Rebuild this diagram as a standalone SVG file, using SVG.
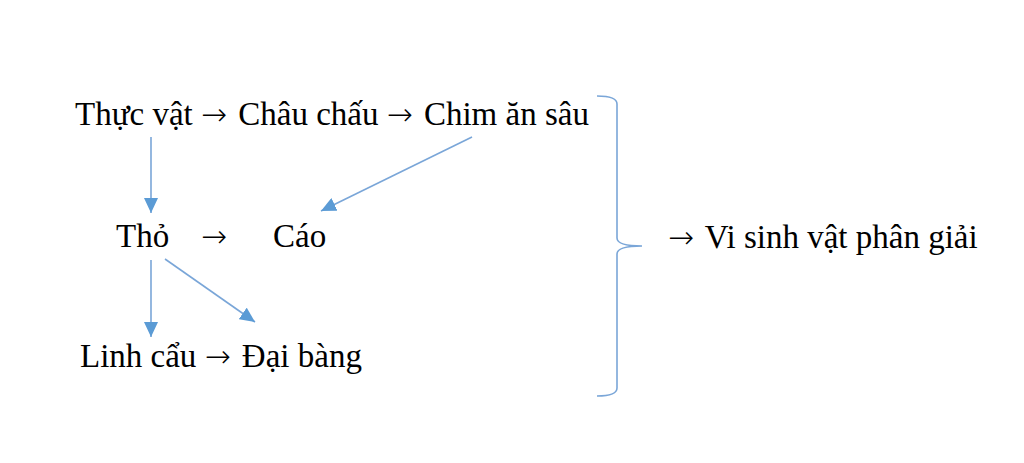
<svg xmlns="http://www.w3.org/2000/svg" width="1024" height="463" viewBox="0 0 1024 463">
<style>
.t{font-family:"Liberation Serif","Times New Roman",serif;font-size:33px;fill:#000}
.a{font-family:"DejaVu Sans",sans-serif;font-size:31px;font-weight:200}
.c{stroke:#7aa6d8;stroke-width:1.6;fill:none}
</style>
<defs>
<marker id="ahb" viewBox="0 0 10 10" refX="10" refY="5" markerWidth="15" markerHeight="14" markerUnits="userSpaceOnUse" orient="auto" preserveAspectRatio="none">
<path d="M0,0 L10,5 L0,10 Z" fill="#5b9bd5"/>
</marker>
</defs>
<rect width="1024" height="463" fill="#fff"/>
<g id="row1"><text class="t" x="75" y="125">Thực vật <tspan class="a">→</tspan><tspan dx="3"> Châu chấu </tspan><tspan class="a">→</tspan><tspan dx="3"> Chim ăn sâu</tspan></text></g>
<g id="tho"><text class="t" x="116" y="247">Thỏ</text></g>
<g id="arrow-tho-cao"><text class="t a" x="201" y="247">→</text></g>
<g id="cao"><text class="t" x="273" y="247">Cáo</text></g>
<g id="row3"><text class="t" x="80" y="367">Linh cẩu <tspan class="a">→</tspan><tspan dx="3"> Đại bàng</tspan></text></g>
<g id="vsv"><text class="t" x="668" y="248"><tspan class="a">→</tspan><tspan dx="3"> Vi sinh vật phân giải</tspan></text></g>
<g id="connectors">
<line class="c" x1="151" y1="137" x2="151" y2="213" marker-end="url(#ahb)"/>
<line class="c" x1="472" y1="137" x2="321" y2="211" marker-end="url(#ahb)"/>
<line class="c" x1="151" y1="260" x2="151" y2="337" marker-end="url(#ahb)"/>
<line class="c" x1="165" y1="259" x2="255" y2="322" marker-end="url(#ahb)"/>
<path class="c" d="M597,96 Q617,96 617,104 L617,238 Q617,246 642,246 Q617,246 617,254 L617,388 Q617,396 597,396"/>
</g>
</svg>
